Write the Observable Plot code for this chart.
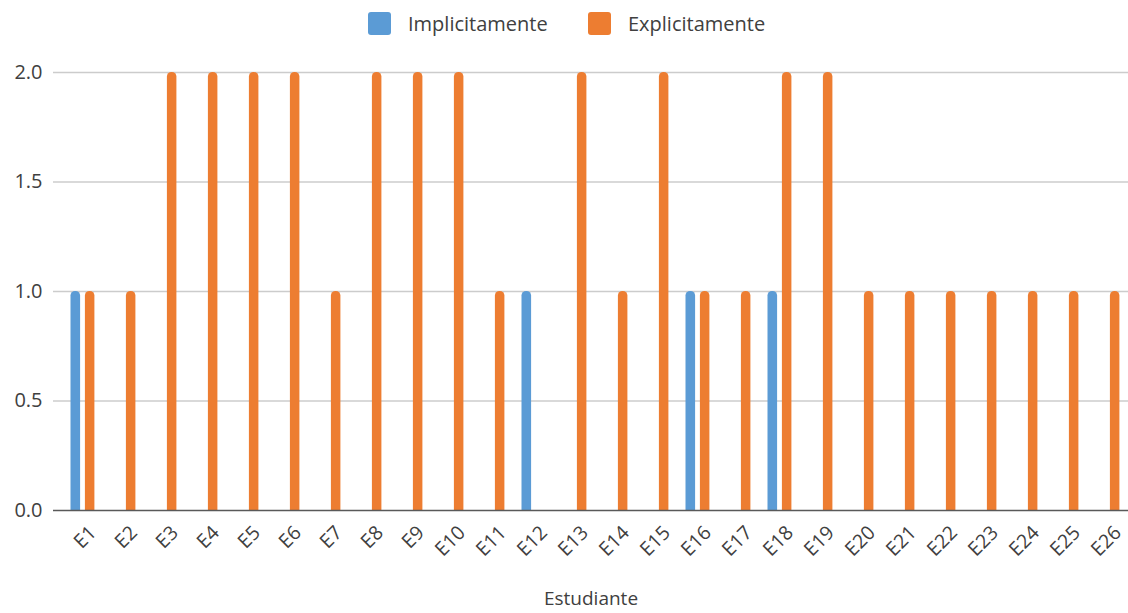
<!DOCTYPE html>
<html>
<head>
<meta charset="utf-8">
<script src="https://cdn.jsdelivr.net/npm/d3@7"></script>
<script src="https://cdn.jsdelivr.net/npm/@observablehq/plot@0.6"></script>
<style>
  body { margin: 0; background: #fff; font-family: "Open Sans", sans-serif; }
  #legend { position: relative; height: 45px; width: 1128px; }
  .item { position: absolute; top: 10px; display: flex; align-items: center; font-size: 20px; color: #404040; white-space: nowrap; }
  .sw { width: 23px; height: 23px; border-radius: 3px; margin-right: 17px; }
</style>
</head>
<body>
<div id="legend"></div>
<div id="chart"></div>
<script>
const categories = ["E1","E2","E3","E4","E5","E6","E7","E8","E9","E10","E11","E12","E13","E14","E15","E16","E17","E18","E19","E20","E21","E22","E23","E24","E25","E26"];
const implicitValues = [1,0,0,0,0,0,0,0,0,0,0,1,0,0,0,1,0,1,0,0,0,0,0,0,0,0];
const explicitValues = [1,1,2,2,2,2,1,2,2,2,1,0,2,1,2,1,1,2,2,1,1,1,1,1,1,1];
const seriesNames = ["Implicitamente", "Explicitamente"];
const seriesColors = ["#5B9BD5", "#ED7D31"];
const yTicks = [0, 0.5, 1, 1.5, 2];

const implicitData = categories.map((c, i) => ({cat: c, value: implicitValues[i]})).filter(d => d.value > 0);
const explicitData = categories.map((c, i) => ({cat: c, value: explicitValues[i]})).filter(d => d.value > 0);

// legend
const legend = document.getElementById("legend");
const legendX = [368, 588];
seriesNames.forEach((name, i) => {
  const it = document.createElement("div");
  it.className = "item";
  it.style.left = legendX[i] + "px";
  it.innerHTML = `<span class="sw" style="background:${seriesColors[i]}"></span><span>${name}</span>`;
  legend.appendChild(it);
});

const chart = Plot.plot({
  width: 1128,
  height: 568,
  marginLeft: 53,
  marginRight: 0,
  marginTop: 27,
  marginBottom: 103,
  style: {fontFamily: "Open Sans, sans-serif", fontSize: "19px", color: "#404040", background: "#fff"},
  x: {domain: categories, range: [61.8, 1129], padding: 0, label: null},
  y: {domain: [0, 2], ticks: yTicks, tickFormat: d3.format(".1f"), label: null},
  marks: [
    Plot.ruleY(yTicks.filter(t => t > 0), {stroke: "#cccccc", strokeWidth: 1.3}),
    Plot.barY(implicitData, {x: "cat", y: "value", fill: seriesColors[0], insetLeft: 8.5, insetRight: 22.9, insetBottom: -6, rx: 4.5, clip: true}),
    Plot.barY(explicitData, {x: "cat", y: "value", fill: seriesColors[1], insetLeft: 22.9, insetRight: 8.6, insetBottom: -6, rx: 4.5, clip: true}),
    Plot.ruleY([0], {stroke: "#595959", strokeWidth: 1.6}),
    Plot.axisY({ticks: yTicks, tickFormat: d3.format(".1f"), tickSize: 0, tickPadding: 11, fontSize: 20, label: null}),
    Plot.axisX({tickSize: 0, tickPadding: 19, tickRotate: -45, fontSize: 19.5, label: null, dx: 10}),
    Plot.text(["Estudiante"], {frameAnchor: "bottom", dy: 88, fontSize: 19, fill: "#404040", lineAnchor: "middle"})
  ]
});
document.getElementById("chart").appendChild(chart);
</script>
</body>
</html>
